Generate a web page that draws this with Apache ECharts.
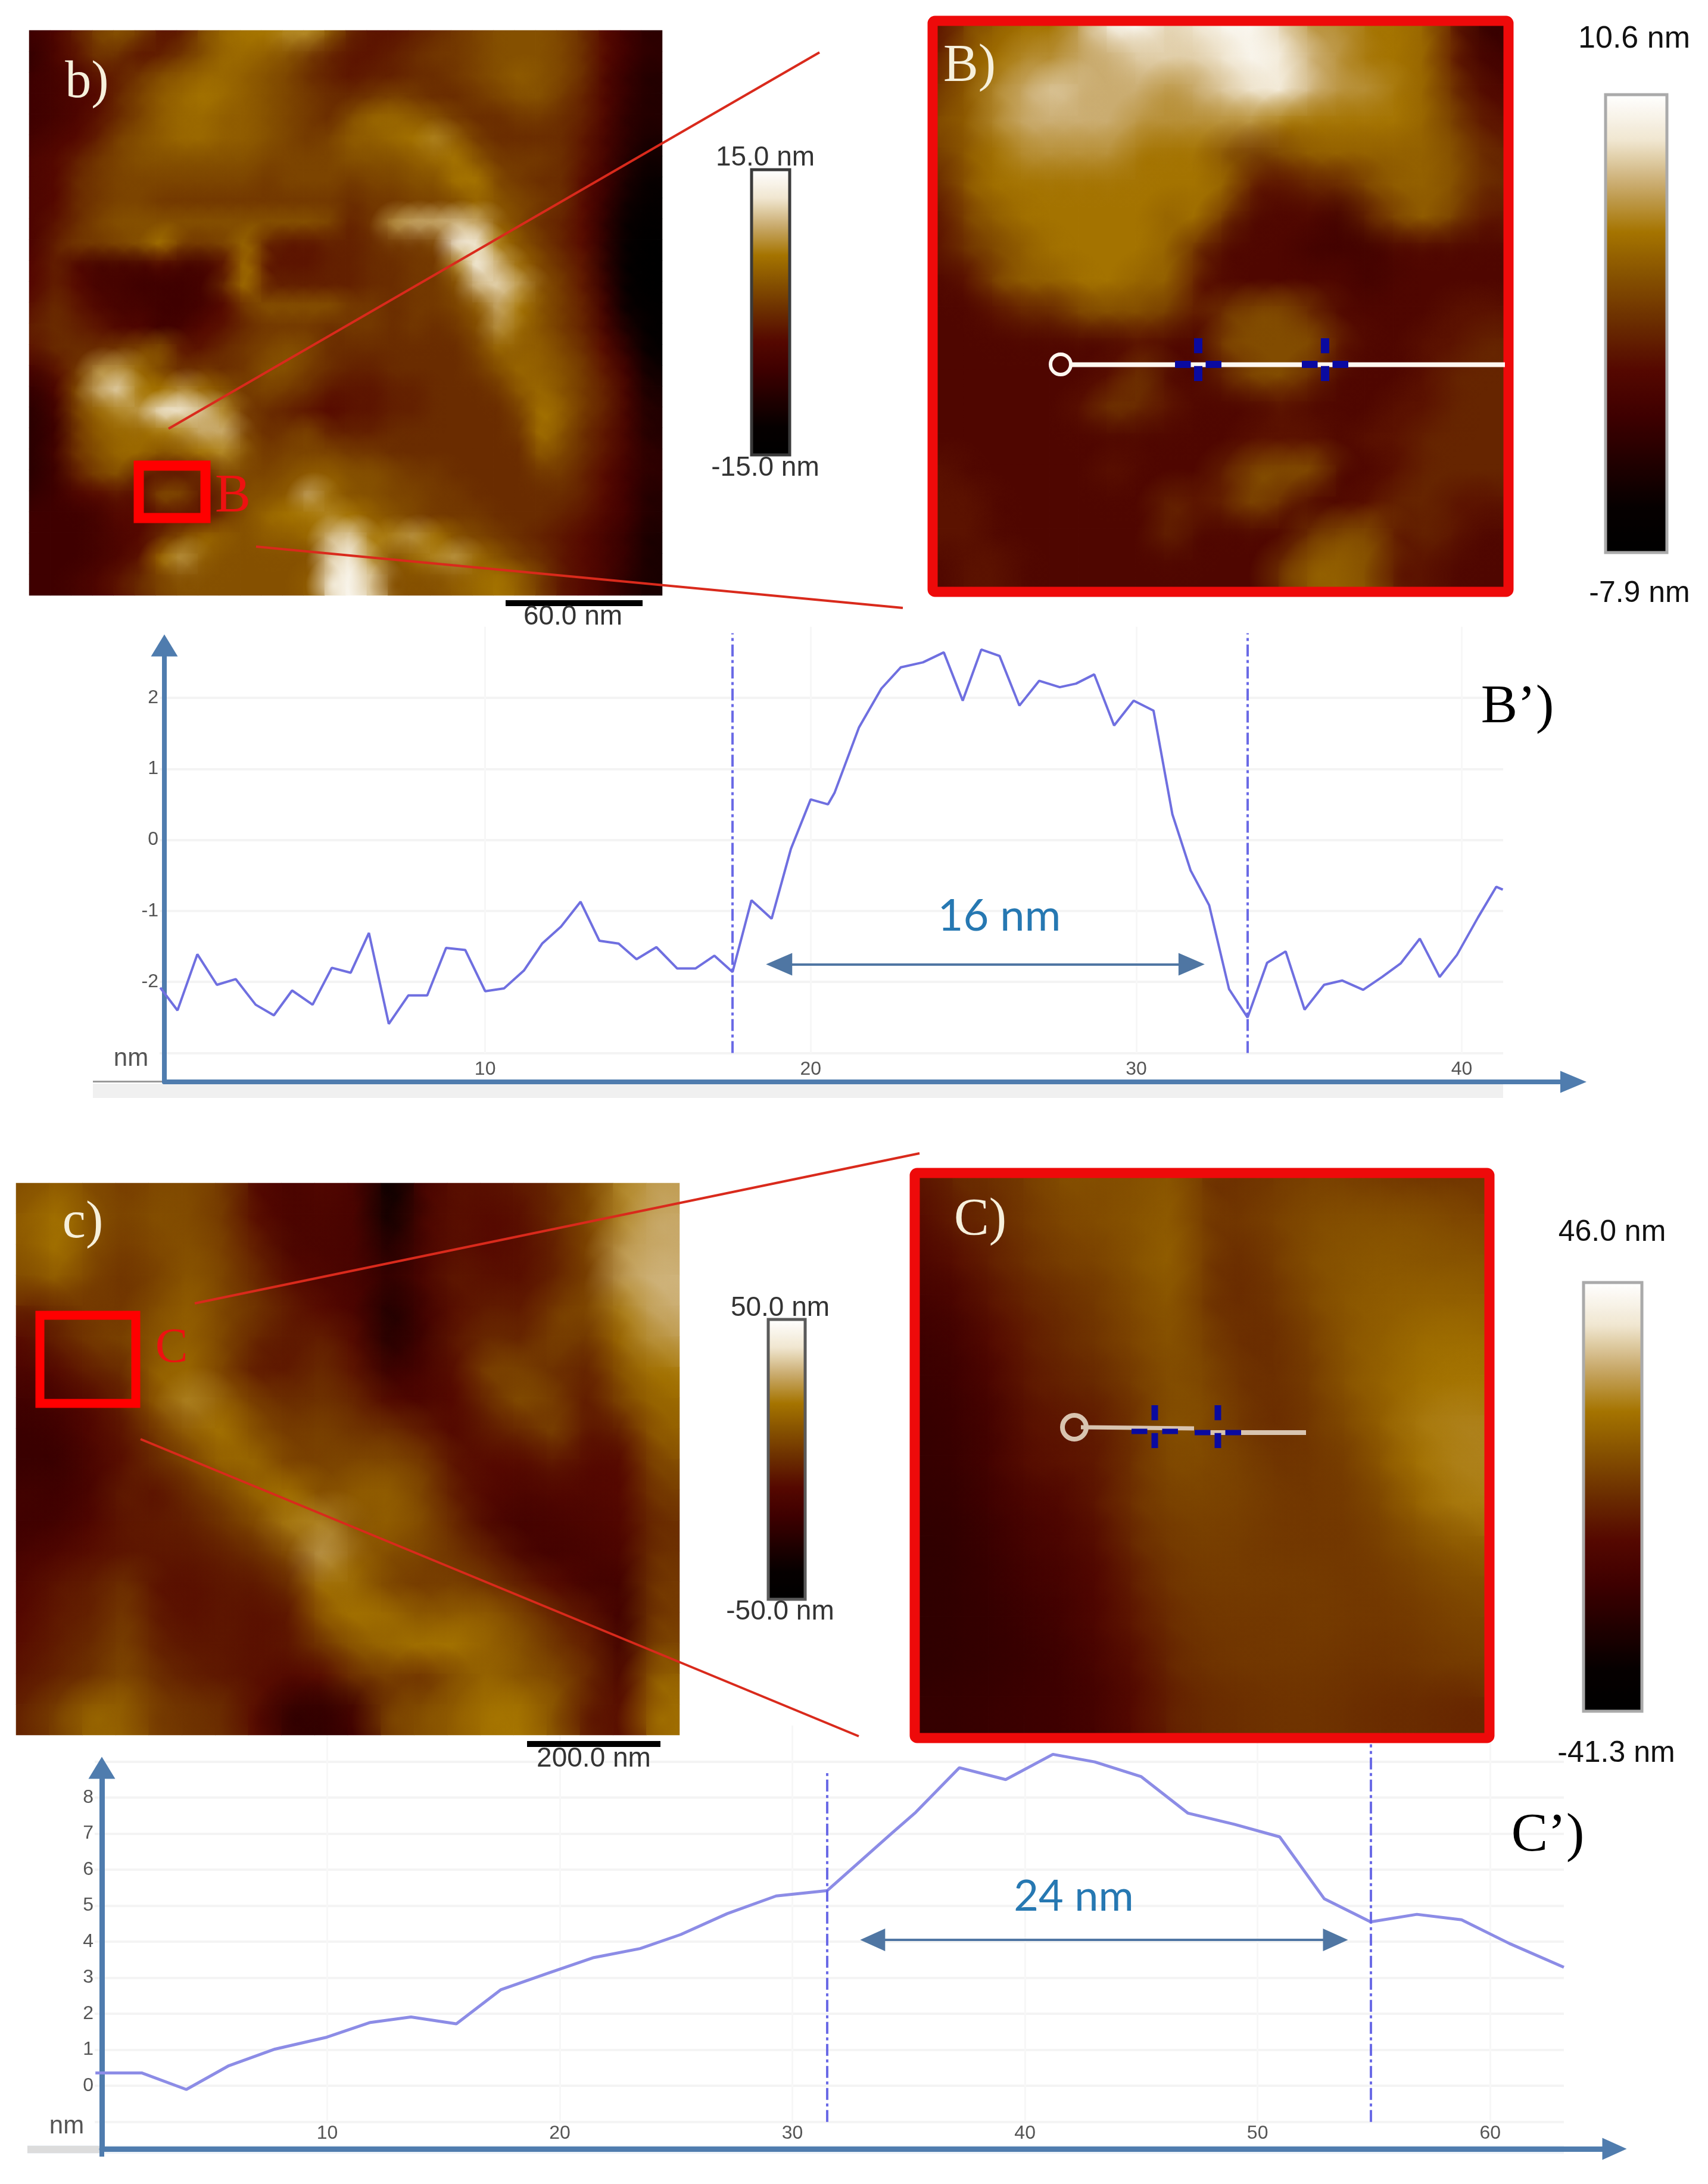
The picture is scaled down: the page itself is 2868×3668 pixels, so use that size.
<!DOCTYPE html>
<html><head><meta charset="utf-8">
<script src="https://cdn.jsdelivr.net/npm/echarts@6/dist/echarts.min.js"></script>
<style>html,body{margin:0;background:#fff}#c{width:2868px;height:3668px}</style></head>
<body><div id="c"></div>
<script>
// ---------- profile B' ----------
const profileBX=[0.02,0.55,1.16,1.76,2.34,2.95,3.51,4.07,4.70,5.29,5.87,6.43,7.04,7.64,8.22,8.80,9.39,10.0,10.58,11.19,11.75,12.33,12.93,13.51,14.10,14.65,15.26,15.90,16.46,17.04,17.60,18.18,18.80,19.39,20.0,20.53,20.73,21.48,22.17,22.77,23.45,24.09,24.67,25.24,25.80,26.41,27.02,27.65,28.15,28.71,29.32,29.92,30.53,31.11,31.67,32.24,32.85,33.42,34.02,34.59,35.17,35.77,36.33,36.97,37.55,38.12,38.71,39.32,39.85,40.5,41.06,41.26];
const profileBY=[-2.08,-2.40,-1.61,-2.04,-1.96,-2.32,-2.47,-2.12,-2.32,-1.80,-1.87,-1.31,-2.59,-2.19,-2.19,-1.52,-1.55,-2.13,-2.09,-1.84,-1.46,-1.22,-0.87,-1.42,-1.46,-1.68,-1.51,-1.81,-1.81,-1.63,-1.86,-0.85,-1.11,-0.13,0.57,0.50,0.66,1.58,2.13,2.43,2.50,2.64,1.96,2.68,2.59,1.89,2.24,2.15,2.20,2.33,1.61,1.96,1.82,0.36,-0.43,-0.92,-2.10,-2.50,-1.73,-1.57,-2.39,-2.04,-1.98,-2.11,-1.93,-1.74,-1.39,-1.93,-1.62,-1.09,-0.66,-0.70];
const cursorsB=[17.6,33.42];
const spanB=[19.03,31.7,-1.75];
// ---------- profile C' ----------
const profileCX=[0.03,2.02,3.94,5.77,7.75,9.98,11.85,13.6,15.55,17.47,19.46,21.46,23.45,25.2,27.2,29.3,31.5,34.25,35.3,37.18,39.17,41.2,43.0,45.0,47.0,49.0,50.95,52.87,54.86,56.85,58.77,60.83,63.17];
const profileCY=[0.36,0.36,-0.10,0.56,1.02,1.35,1.76,1.91,1.72,2.67,3.12,3.56,3.81,4.2,4.78,5.27,5.42,7.0,7.59,8.83,8.50,9.2,8.99,8.58,7.57,7.26,6.91,5.19,4.55,4.76,4.61,3.95,3.29];
const cursorsC=[31.5,54.86];
const cursorTopsC=[8.68,9.48];
const spanC=[33.45,53.35,4.05];
// ---------- AFM height maps (nm), top row first ----------
const heightsb=[
[-6,-4,-1,2,3,1,-2,-1,3,5,6,6,7,7,3,-1,-2,-2,-1,0,1,2,3,3,3,2,0,-3,-6,-8],
[-7,-4,-2,1,0,-2,-1,1,3,5,5,4,3,1,-1,-2,-2,-1,0,1,1,2,3,3,3,2,0,-3,-6,-8],
[-6,-5,-4,-2,-1,1,3,4,5,5,4,3,2,0,-1,-2,-1,-1,0,0,1,2,3,4,3,2,0,-4,-7,-9],
[-6,-5,-4,-3,0,2,4,5,6,5,4,3,2,1,0,0,1,2,1,0,0,1,2,3,3,1,-1,-4,-7,-9],
[-6,-5,-4,-2,0,2,4,5,5,4,4,3,2,1,0,3,5,5,4,3,1,0,0,1,1,0,-1,-4,-8,-9],
[-5,-4,-3,-1,2,3,4,5,5,4,4,3,2,1,2,4,4,5,6,7,4,1,0,0,0,0,-2,-5,-8,-10],
[-4,-3,-1,1,2,3,3,3,3,3,3,2,2,2,2,3,3,3,4,5,6,3,1,1,1,0,-2,-5,-9,-11],
[-4,-3,0,1,2,2,2,2,2,2,2,1,2,2,2,1,2,2,3,3,6,6,2,1,0,0,-3,-6,-10,-12],
[-4,-3,0,1,2,2,1,1,1,1,1,1,1,1,1,0,1,1,2,2,3,5,3,2,1,0,-3,-7,-11,-13],
[-4,-2,0,2,3,3,3,3,3,3,3,3,3,3,2,-1,1,8,9,9,10,9,4,2,0,-1,-3,-8,-12,-14],
[-4,-1,1,1,2,3,6,1,1,2,5,-1,-2,-2,-1,-1,0,1,1,2,13,12,6,3,1,-1,-3,-8,-13,-15],
[-3,-1,-4,-5,-5,-5,-4,-5,-5,-2,6,-2,-2,-2,-1,-1,0,0,1,1,7,14,9,5,2,0,-2,-8,-14,-15],
[-3,-1,-3,-5,-5,-6,-6,-6,-5,0,6,-1,-1,-1,-1,-1,0,0,1,1,3,10,11,8,3,1,-2,-7,-13,-15],
[-2,0,-2,-4,-5,-5,-6,-6,-5,-3,1,3,3,3,3,1,1,0,1,1,2,4,9,6,3,1,-1,-6,-12,-14],
[-1,0,-1,-2,-4,-4,-6,-5,-3,-2,0,1,1,1,0,1,1,0,1,0,1,3,8,5,3,1,-1,-5,-10,-14],
[-2,0,0,0,1,2,3,-2,-2,0,1,2,3,2,0,0,0,0,0,0,0,2,5,4,4,2,0,-3,-8,-13],
[-5,-2,1,8,8,5,2,0,1,0,1,3,3,1,0,-1,-1,0,0,0,0,1,3,5,4,3,1,-2,-6,-11],
[-7,-4,3,9,11,6,6,8,5,3,1,2,1,0,-2,-2,-2,-1,-1,0,0,0,1,4,5,3,1,-1,-5,-10],
[-8,-5,2,5,7,8,13,12,10,7,1,0,-1,-2,-3,-2,-2,-1,-1,0,0,0,0,2,6,4,1,-1,-5,-9],
[-8,-6,1,4,5,5,6,7,9,9,2,0,1,2,-1,-1,-1,0,0,0,0,0,0,1,6,3,0,-2,-5,-9],
[-8,-5,1,3,5,5,3,4,6,7,3,1,2,2,2,1,1,0,0,0,0,0,0,0,4,2,0,-2,-5,-8],
[-8,-6,-1,2,3,-1,-2,-2,-1,3,2,2,3,4,4,3,3,2,1,1,0,0,0,0,1,1,-1,-3,-6,-8],
[-7,-6,-4,-3,-2,-3,3,2,-2,0,3,3,4,9,5,3,3,2,2,1,1,0,0,0,0,0,-1,-3,-6,-9],
[-6,-6,-6,-5,-3,-3,-2,-2,-2,1,3,5,6,6,7,6,4,3,2,1,1,1,0,0,0,-1,-2,-4,-6,-9],
[-6,-6,-6,-5,-4,-3,0,3,5,4,3,4,4,5,10,11,6,7,8,6,3,2,1,0,-1,-2,-3,-5,-7,-10],
[-6,-6,-6,-5,-4,-2,6,8,4,3,3,3,3,3,11,13,7,3,5,7,8,5,3,1,0,-2,-3,-5,-7,-10],
[-6,-6,-5,-4,-2,0,2,3,3,3,3,3,3,4,12,14,10,3,3,3,4,5,6,4,1,-2,-3,-5,-8,-10]];
const heightsB=[
[0,3,4,5,5,7,10,10,8,9,10,10,8,6,6,5,5,4,0,-3],
[1,4,5,6,6,7,7,8,8,8,9,10,9,7,6,5,5,4,0,-2],
[2,4,6,7,8,7,7,7,6,7,8,9,9,7,6,6,5,4,1,-1],
[3,4,6,7,7,7,7,6,6,6,6,6,5,5,5,5,5,4,2,0],
[2,4,5,6,6,6,6,5,5,5,3,2,3,4,4,4,4,4,3,1],
[1,4,5,5,5,5,5,5,5,5,4,0,0,1,1,3,4,4,3,1],
[0,3,4,5,5,5,5,5,4,5,1,-1,-1,-1,-2,1,3,4,2,0],
[0,2,3,4,5,5,5,5,4,1,-1,-1,-1,-2,-2,-2,-1,-1,-1,-1],
[-1,0,3,4,4,5,5,4,4,0,-1,-1,-1,-1,-1,-2,-1,-1,-1,-1],
[-1,-1,0,1,1,3,3,3,2,0,2,3,3,1,-1,-1,-1,-1,0,0],
[-1,-1,-1,-1,-1,-1,-1,0,-1,-1,3,3,3,3,0,-1,-1,0,0,1],
[-1,-1,-1,-1,-1,-1,0,2,-1,-1,1,3,3,1,-1,-1,-1,0,1,1],
[-1,-1,-1,-1,-1,0,2,1,0,-1,-1,-1,0,-1,-1,-1,0,0,1,1],
[-1,-1,-1,-1,-1,-1,-1,-1,-1,-1,-1,0,0,0,-1,0,0,1,1,1],
[0,-1,-1,-1,-1,-1,0,-1,-1,-1,1,3,3,3,-1,-1,0,1,1,1],
[0,0,-1,-1,-1,-1,-1,-1,1,0,1,3,1,-1,-1,0,1,1,0,0],
[0,0,-1,-1,-1,-1,-1,-1,1,-1,-1,-1,-1,2,3,3,0,1,0,-1],
[-1,0,0,-1,-1,-1,-1,-1,-1,-1,-1,-1,2,4,4,3,0,0,-1,-1]];
const heightsc=[
[10,14,8,5,8,8,3,-12,-15,-12,-16,-40,-15,-8,-8,-5,0,8,24,28],
[14,20,10,6,10,8,3,-10,-15,-14,-16,-38,-14,-8,-10,-8,0,8,24,30],
[12,20,8,4,8,10,5,-5,-15,-15,-16,-30,-14,-8,-10,-8,-3,8,28,30],
[8,14,5,2,6,12,6,-2,-10,-14,-16,-25,-14,-5,-8,-8,-2,6,28,32],
[-5,0,4,3,10,14,6,2,-5,-10,-16,-32,-18,-8,-4,-5,5,8,22,30],
[-10,-3,4,6,12,14,6,-3,-6,-3,-12,-30,-18,-5,0,-2,6,2,18,26],
[-15,-10,-3,0,16,16,5,-6,-5,0,-8,-22,-15,-8,8,6,0,-3,12,20],
[-20,-16,-10,-3,14,24,14,4,0,2,-2,-12,-14,-10,0,10,4,-6,8,16],
[-22,-20,-12,-6,4,14,20,8,4,6,2,2,-5,-12,-5,-2,6,-8,-4,14],
[-22,-22,-14,-8,0,6,16,16,5,6,8,8,4,-8,-10,-10,-6,-10,-10,8],
[-18,-20,-15,-4,-8,0,6,16,20,8,14,14,6,-6,-12,-14,-12,-12,-10,4],
[-20,-18,-12,-6,-5,-4,2,8,22,24,10,14,8,-2,-14,-18,-16,-14,-12,0],
[-15,-12,-8,-6,-6,-6,-4,0,8,28,14,8,6,2,-4,-15,-18,-16,-14,2],
[-12,-6,-4,2,-8,-8,-6,-6,0,20,16,6,4,6,2,-4,-10,-18,-18,4],
[-10,-5,-3,4,-6,-8,-6,-8,-6,14,20,18,12,14,14,6,-2,-8,-20,4],
[-8,-4,0,6,-4,-6,-6,-8,-6,2,12,16,20,20,14,10,2,-4,-18,8],
[-6,-2,2,8,0,-4,-6,-8,-12,-10,2,4,0,10,16,10,8,-2,-14,16],
[-2,6,16,14,4,2,0,-10,-25,-25,-18,6,10,14,20,20,10,-6,-8,18]];
const heightsC=[
[-4,2,3,7,11,10,11,13,3,4,6,8,7,6,5,5],
[-7,0,2,6,9,10,12,14,4,5,8,10,11,11,11,9],
[-10,-5,0,4,7,8,12,15,4,2,7,11,12,13,12,12],
[-14,-10,-3,1,3,6,10,13,3,2,5,10,13,14,15,15],
[-16,-13,-6,-1,2,5,9,12,6,2,3,8,13,15,18,18],
[-17,-15,-9,-2,0,2,7,11,8,3,3,7,13,16,19,20],
[-18,-16,-12,-4,-3,-1,5,12,9,4,2,6,10,16,21,22],
[-18,-17,-12,-5,-4,-2,5,10,9,7,4,5,7,14,20,22],
[-19,-18,-14,-10,-8,-2,5,8,8,7,5,5,6,10,17,21],
[-20,-19,-16,-12,-10,-5,3,6,7,6,5,5,5,8,11,14],
[-20,-19,-17,-14,-12,-7,0,5,6,6,6,6,5,6,8,10],
[-20,-19,-18,-16,-13,-8,-2,3,5,5,5,6,5,5,6,8],
[-20,-19,-18,-17,-15,-10,-5,2,4,5,5,5,4,4,5,6],
[-18,-18,-17,-16,-15,-12,-6,0,2,3,4,4,3,2,2,1]];
const ramp=['#000000','#060000','#220000','#3f0000','#550800','#6a2c00','#855000','#a57400','#c8a96a','#f0e6d0','#ffffff'];

const chart=echarts.init(document.getElementById('c'),null,{renderer:'canvas',width:2868,height:3668});
const AX='#4f7cae',GR='#f4f4f4',GV='#f7f7f7',TICK='#555555',SANS='"Liberation Sans",Arial,sans-serif',SERIF='"Liberation Serif",serif',LB='#6f6fe0',LC='#8c8ce6',CUR='#6a6ae6';

const grid=[],xAxis=[],yAxis=[],series=[],visualMap=[];
function addGrid(l,t,r,b){grid.push({left:l,top:t,width:r-l,height:b-t,containLabel:false});return grid.length-1;}
function dataAxes(g,xmax,ymin,ymax,size,xm,fmt){
  xAxis.push({type:'value',gridIndex:g,min:0,max:xmax,interval:10,
    axisLine:{show:false},axisTick:{show:false},axisLabel:{showMinLabel:false,showMaxLabel:false,color:TICK,fontFamily:SANS,fontSize:size,margin:xm},
    splitLine:{show:true,showMinLine:false,showMaxLine:false,lineStyle:{color:GV,width:3}}});
  yAxis.push({type:'value',gridIndex:g,min:ymin,max:ymax,interval:1,
    axisLine:{show:false},axisTick:{show:false},axisLabel:{showMinLabel:false,showMaxLabel:false,color:TICK,fontFamily:SANS,fontSize:size,margin:2,formatter:fmt},
    splitLine:{show:true,showMaxLine:false,lineStyle:{color:GR,width:4}}});
}
function frameAxes(g,xArrow,yArrow,lw){
  const base={type:'value',gridIndex:g,min:0,max:1,axisTick:{show:false},axisLabel:{show:false},splitLine:{show:false}};
  xAxis.push(Object.assign({},base,{axisLine:{show:true,onZero:false,symbol:['none','triangle'],symbolSize:xArrow,lineStyle:{color:AX,width:lw}}}));
  yAxis.push(Object.assign({},base,{axisLine:{show:true,onZero:false,symbol:['none','triangle'],symbolSize:yArrow,lineStyle:{color:AX,width:lw}}}));
}
function zip(a,b){return a.map((v,i)=>[v,b[i]]);}
function cursorPairs(xs,y0,tops,col){return xs.map((x,i)=>[{xAxis:x,yAxis:y0,symbol:'none',lineStyle:{color:col,width:4,type:[20,6,5,6]}},{xAxis:x,yAxis:tops[i],symbol:'none'}]);}
function spanPair(s,h){return [{xAxis:s[0],yAxis:s[2],symbol:'triangle',symbolSize:h,lineStyle:{color:'#4f76a3',width:4,type:'solid'}},{xAxis:s[1],yAxis:s[2],symbol:'triangle',symbolSize:h}];}

// B' profile
const gB=addGrid(268,1052.7,2524,1768.5);
dataAxes(gB,41.27,-3,3,32,12,v=>String(v));
series.push({type:'line',xAxisIndex:gB,yAxisIndex:gB,data:zip(profileBX,profileBY),showSymbol:false,symbol:'none',silent:true,
  lineStyle:{color:LB,width:4},
  markLine:{silent:true,animation:false,label:{show:false},symbol:'none',
    data:cursorPairs(cursorsB,-3,[2.91,2.91],CUR).concat([spanPair(spanB,[38,44])])}});
const fB=addGrid(276,1084,2642,1817);
frameAxes(fB,[37,44],[45,37],8);
// C' profile
const gC=addGrid(159,2898,2626,3563.7);
dataAxes(gC,63.17,-1,10,32,3,v=>(v>8?'':String(v)));
series.push({type:'line',xAxisIndex:gC,yAxisIndex:gC,data:zip(profileCX,profileCY),showSymbol:false,symbol:'none',silent:true,
  lineStyle:{color:LC,width:5},
  markLine:{silent:true,animation:false,label:{show:false},symbol:'none',
    data:cursorPairs(cursorsC,-1,cursorTopsC,CUR).concat([spanPair(spanC,[38,42])])}});
const fC=addGrid(171,2969,2711,3609);
frameAxes(fC,[37,41],[45,37],9);

// AFM maps
function addMap(rows,l,t,r,b,min,max,bar){
  const g=addGrid(l,t,r,b),nr=rows.length,nc=rows[0].length;
  const cats=n=>Array.from({length:n},(_,i)=>String(i));
  xAxis.push({type:'category',gridIndex:g,data:cats(nc),show:false,boundaryGap:true});
  yAxis.push({type:'category',gridIndex:g,data:cats(nr),show:false,inverse:true,boundaryGap:true});
  const cells=[];rows.forEach((row,j)=>row.forEach((v,i)=>cells.push([i,j,v])));
  const i0=series.length;
  series.push({type:'heatmap',xAxisIndex:g,yAxisIndex:g,data:cells,silent:true,progressive:0,itemStyle:{borderWidth:0}});
  series.push({type:'custom',xAxisIndex:g,yAxisIndex:g,data:cells,silent:true,clip:true,progressive:0,
    encode:{x:0,y:1},dimensions:['col','row','nm'],
    renderItem(p,api){
      const c=api.coord([api.value(0),api.value(1)]),s=api.size([1,1]),R=Math.max(s[0],s[1])*1.4,col=api.visual('color');
      return {type:'circle',shape:{cx:c[0],cy:c[1],r:R},silent:true,style:{fill:{type:'radial',x:.5,y:.5,r:.5,colorStops:[{offset:0,color:col},{offset:1,color:echarts.color.modifyAlpha(col,0)}]}}};
    }});
  visualMap.push({type:'continuous',seriesIndex:[i0,i0+1],dimension:2,min,max,calculable:false,hoverLink:false,realtime:false,
    orient:'vertical',left:bar[0],top:bar[1],itemWidth:bar[2],itemHeight:bar[3],padding:0,inRange:{color:ramp}});
}
addMap(heightsb,49,51,1112,1000,-15,15,[1262,285,64,479]);
addMap(heightsB,1570,35,2532,994,-7.9,10.6,[2696,159,103,769]);
addMap(heightsc,27,1987,1141,2914,-50,50,[1290,2216,62,470]);
addMap(heightsC,1540,1972,2497,2917,-41.3,46,[2659,2154,98,720]);

// annotations
const T=(text,x,y,size,fill,family)=>({type:'text',x,y,silent:true,style:{text,align:'center',verticalAlign:'middle',fontSize:size,fontFamily:family||SANS,fill}});
const L=(x1,y1,x2,y2,stroke,lineWidth,lineDash)=>({type:'line',silent:true,shape:{x1,y1,x2,y2},style:{stroke,lineWidth,lineDash:lineDash||null}});
const R=(x,y,w,h,stroke,lineWidth,r)=>({type:'rect',silent:true,shape:{x,y,width:w,height:h,r:r||0},style:{fill:'none',stroke,lineWidth}});
const F=(x,y,w,h,fill)=>({type:'rect',silent:true,shape:{x,y,width:w,height:h},style:{fill}});
const RED='#ee0a0a',CONN='#d92a1c',BL='#0a0aa0',INK='#333333';
const cross=(cx,cy,hy,hw,hh,sz)=>[L(cx-hw,hy,cx+hw,hy,BL,sz,[hw*0.68,hw*0.64]),L(cx,cy-hh,cx,cy+hh,BL,sz+2,[hh*0.7,hh*0.6])];
// bands lie under the axes, everything else over the maps
const bands=[F(156,1820,2368,24,'#f0f0f0'),F(156,1815,120,3,'#9a9a9a'),F(46,3603,2580,14,'#eef3f8'),F(46,3604,125,12,'#dcdcdc')];
const overlays=[
  F(167,3605,8,17,AX),
  // panel b
  R(1262,285,64,479,'#3a3a3a',5),R(233,782,112,88,'#ff0000',17),
  L(283,720,1376,88,CONN,4),L(430,918,1516,1021,CONN,4),
  F(849,1008,230,10,'#000'),
  T('b)',146,140,88,'#f6f0dc',SERIF),T('B',391,835,90,'#ee1111',SERIF),
  T('15.0 nm',1285,265,46,INK),T('-15.0 nm',1285,786,46,INK),T('60.0 nm',962,1036,46,INK),
  // panel B
  R(1566,35,967,959,RED,17,4),R(2696,159,103,769,'#aaaaaa',5),
  L(1800,612.5,2527,612.5,'#fff7f0',8),
  {type:'circle',silent:true,shape:{cx:1781,cy:612,r:17},style:{fill:'none',stroke:'#fff7f0',lineWidth:6}},
  ...cross(2012,604,612,39,36,12),...cross(2225,604,612,39,36,12),
  T('B)',1628,112,88,'#f6f0dc',SERIF),T('10.6 nm',2744,66,52,'#111'),T('-7.9 nm',2753,997,50,'#111'),
  // profile B' texts
  T('nm',220,1778,42,TICK),T('16 nm',1678,1539,74,'#2678b2','Lato'),T('B’)',2548,1189,92,'#000',SERIF),
  // panel c
  R(1290,2216,62,470,'#5a5a5a',5),R(67,2209,161,148,'#ff0000',15),
  L(327,2189,1544,1937,CONN,4),L(236,2417,1442,2916,CONN,4),
  F(885,2924,224,10,'#000'),
  T('c)',139,2055,88,'#f6f0dc',SERIF),T('C',288,2265,82,'#ee1111',SERIF),
  T('50.0 nm',1310,2197,46,INK),T('-50.0 nm',1310,2707,46,INK),T('200.0 nm',997,2954,46,INK),
  // panel C
  R(1536,1970,965,949,RED,17,4),R(2659,2154,98,720,'#aaaaaa',5),
  L(1815,2397,2005,2399,'#d8c4b0',7),L(2020,2406,2193,2406,'#d8c4b0',8),
  {type:'circle',silent:true,shape:{cx:1804,cy:2397,r:20},style:{fill:'none',stroke:'#d8c4b0',lineWidth:8}},
  ...cross(1939,2396,2404,39,36,9),...cross(2045,2396,2406,39,36,9),
  T('C)',1646,2050,88,'#f6f0dc',SERIF),T('46.0 nm',2707,2070,50,'#111'),T('-41.3 nm',2714,2945,50,'#111'),
  // profile C' texts
  T('nm',112,3571,42,TICK),T('24 nm',1803,3186,72,'#2678b2','Lato'),T('C’)',2599,3084,92,'#000',SERIF)
].map(e=>Object.assign(e,{z:100}));
chart.setOption({animation:false,backgroundColor:'#ffffff',tooltip:{show:false},grid,xAxis,yAxis,series,visualMap,graphic:{elements:bands.concat(overlays)}});
</script></body></html>
